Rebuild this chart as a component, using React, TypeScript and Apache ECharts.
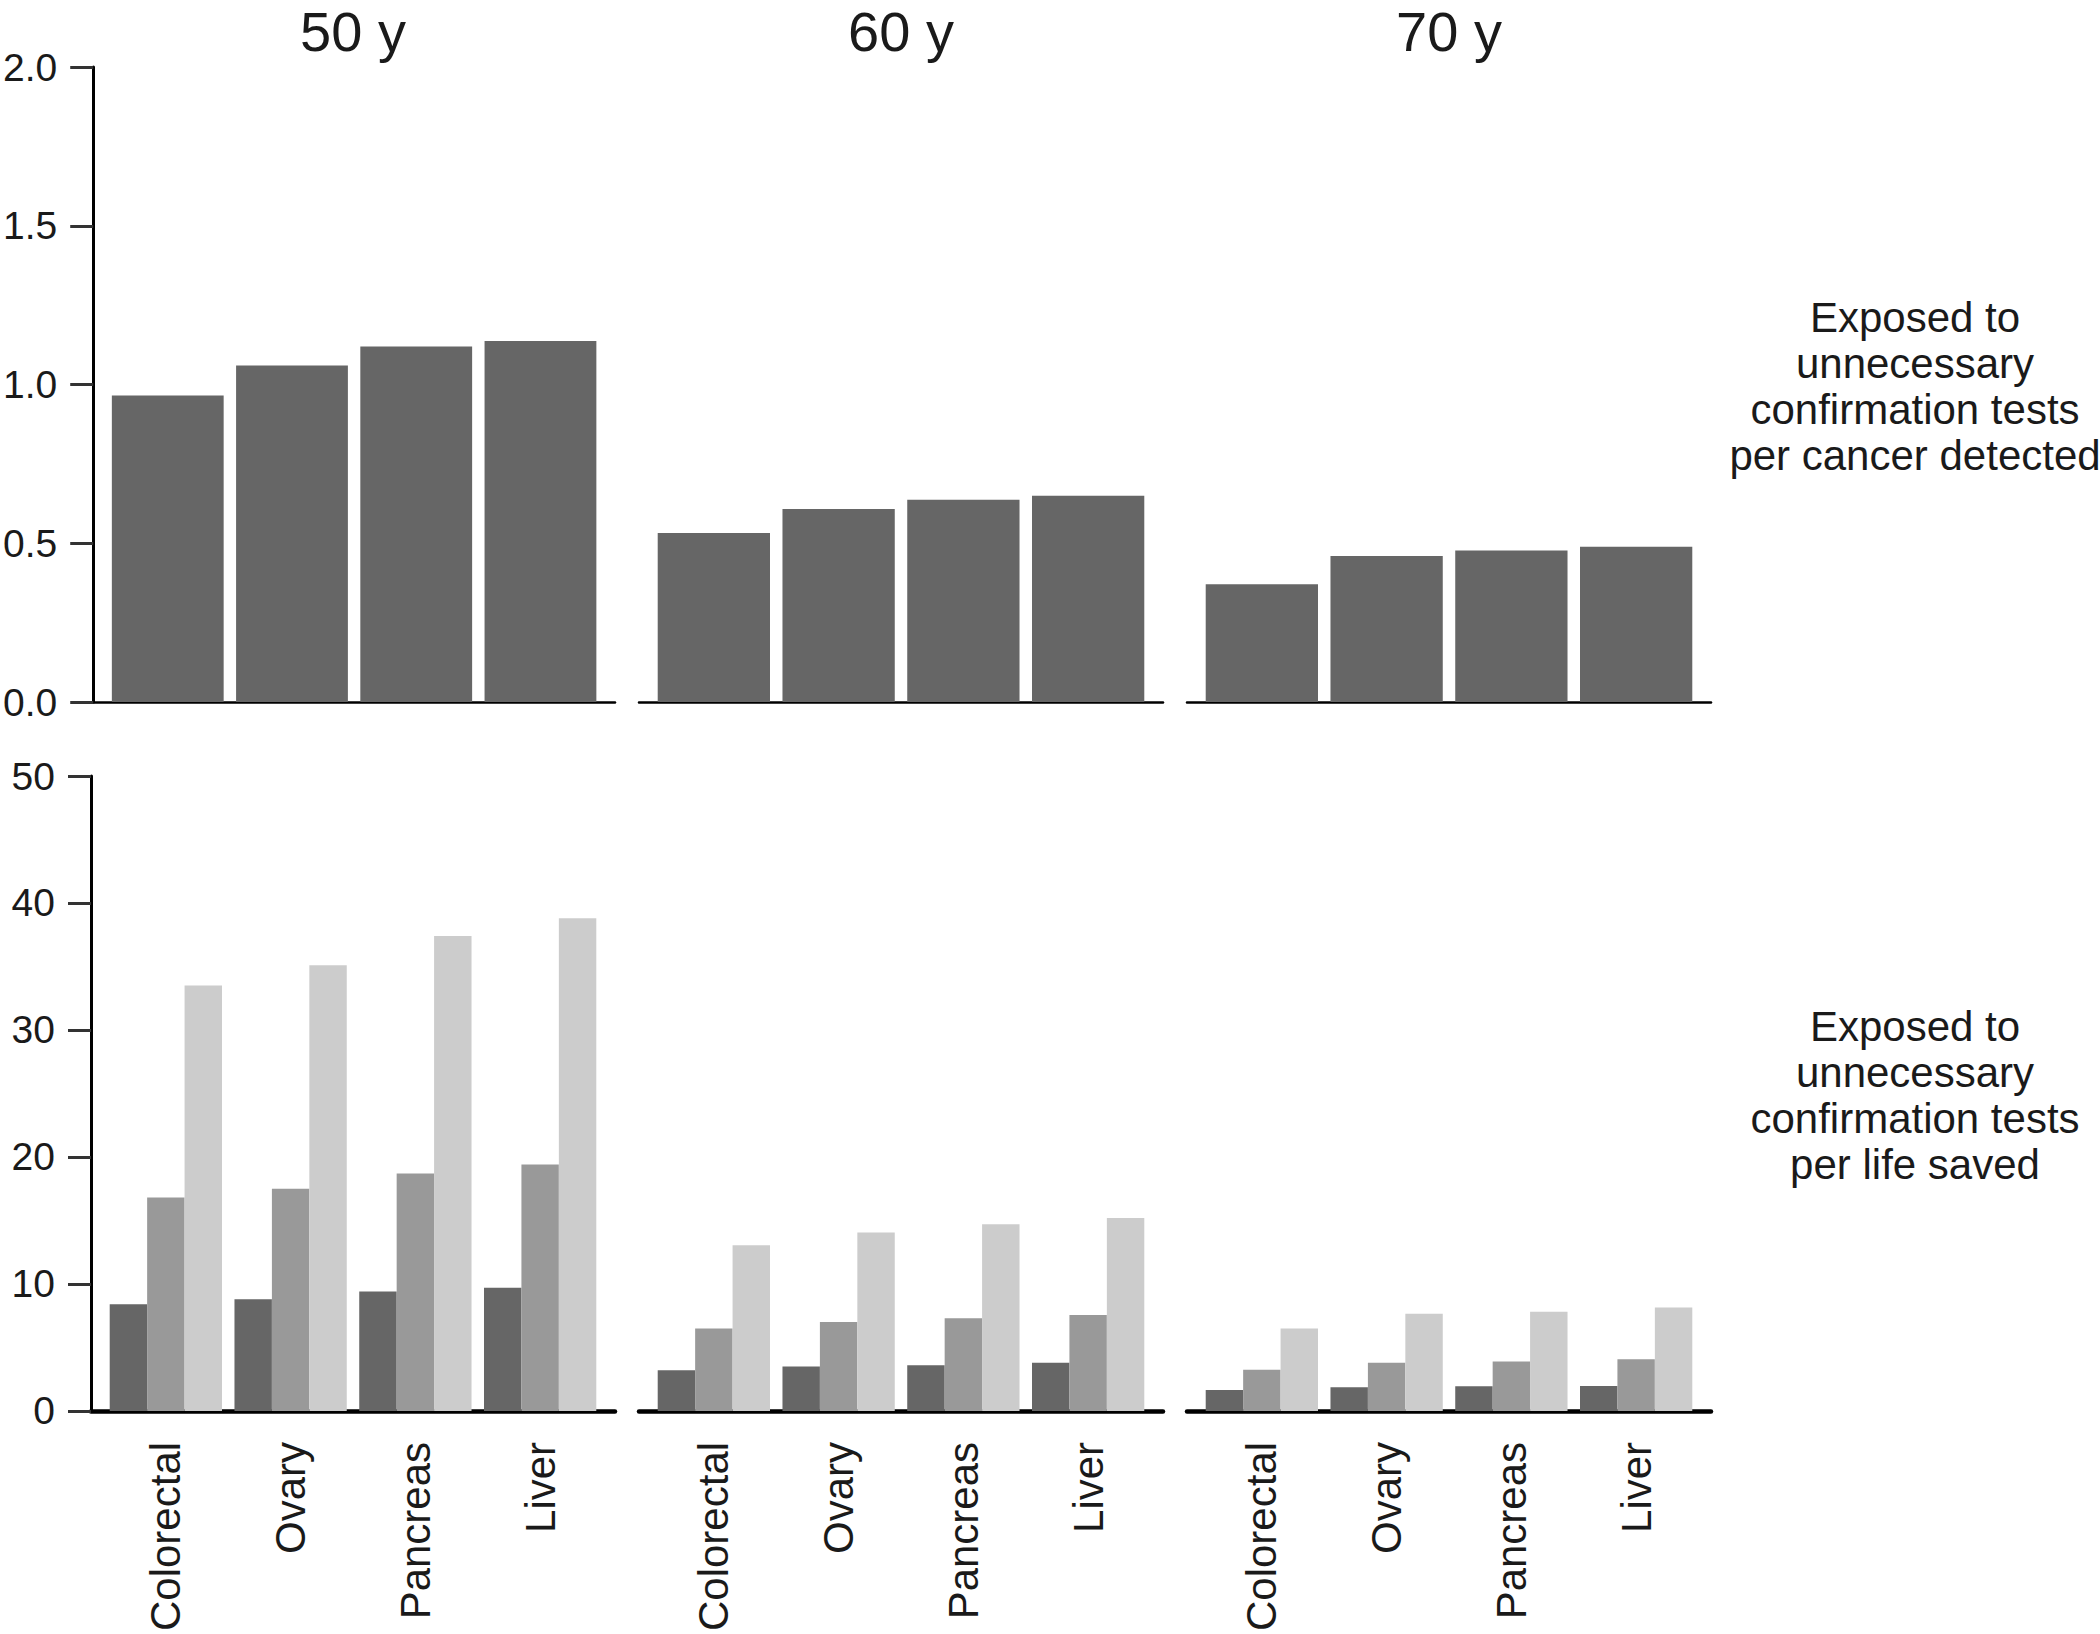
import React, { useEffect, useRef } from "react";
import * as echarts from "echarts";

// ---------- data ----------
const cancers = ["Colorectal", "Ovary", "Pancreas", "Liver"];
const ageGroups = ["50 y", "60 y", "70 y"];

// Exposed to unnecessary confirmation tests per cancer detected
const perCancer50 = [0.965, 1.06, 1.12, 1.137];
const perCancer60 = [0.532, 0.608, 0.637, 0.65];
const perCancer70 = [0.371, 0.46, 0.477, 0.489];

// Exposed to unnecessary confirmation tests per life saved (three shades)
const perLife50Dark = [8.4, 8.8, 9.4, 9.7];
const perLife50Mid = [16.8, 17.5, 18.7, 19.4];
const perLife50Light = [33.5, 35.1, 37.4, 38.8];

const perLife60Dark = [3.2, 3.5, 3.6, 3.8];
const perLife60Mid = [6.5, 7.0, 7.3, 7.55];
const perLife60Light = [13.05, 14.05, 14.7, 15.2];

const perLife70Dark = [1.65, 1.87, 1.95, 1.97];
const perLife70Mid = [3.25, 3.8, 3.9, 4.07];
const perLife70Light = [6.5, 7.65, 7.8, 8.15];

const topTicks = [0, 0.5, 1.0, 1.5, 2.0];
const bottomTicks = [0, 10, 20, 30, 40, 50];

const rowLabelTop = "Exposed to\nunnecessary\nconfirmation tests\nper cancer detected";
const rowLabelBottom = "Exposed to\nunnecessary\nconfirmation tests\nper life saved";

const shadeNames = ["Dark", "Medium", "Light"];

// ---------- styling ----------
const FONT = "'Liberation Sans', Arial, Helvetica, sans-serif";
const TEXT = "#1a1a1a";
const COLORS = ["#666666", "#999999", "#cccccc"];

const PANEL_LEFTS = [91, 639, 1187];
const PANEL_W = 524;
const TOP_Y = 67;
const BOT_Y = 776;
const PANEL_H = 635;

export default function App() {
  const ref = useRef<HTMLDivElement>(null);

  useEffect(() => {
    if (!ref.current) return;
    const chart = echarts.init(ref.current, null, { renderer: "svg" });

    const topData = [perCancer50, perCancer60, perCancer70];
    const botData = [
      [perLife50Dark, perLife50Mid, perLife50Light],
      [perLife60Dark, perLife60Mid, perLife60Light],
      [perLife70Dark, perLife70Mid, perLife70Light],
    ];

    const grid: any[] = [];
    const xAxis: any[] = [];
    const yAxis: any[] = [];
    const series: any[] = [];
    const graphic: any[] = [];

    const toPoints = (vals: number[]) => vals.map((v, i) => [i + 1, v]);

    for (let row = 0; row < 2; row++) {
      for (let p = 0; p < 3; p++) {
        const idx = row * 3 + p;
        grid.push({
          left: PANEL_LEFTS[p],
          top: row === 0 ? TOP_Y : BOT_Y,
          width: PANEL_W,
          height: PANEL_H,
          containLabel: false,
        });
        xAxis.push({
          type: "value",
          gridIndex: idx,
          min: 0.4,
          max: 4.6,
          splitLine: { show: false },
          axisTick: { show: false },
          axisLine: {
            show: true,
            onZero: false,
            lineStyle: { color: "#000", width: row === 0 ? 2.5 : 4.5 },
          },
          axisLabel:
            row === 0
              ? { show: false }
              : {
                  show: true,
                  customValues: [1, 2, 3, 4],
                  formatter: (v: number) => cancers[Math.round(v) - 1] ?? "",
                  rotate: 90,
                  margin: 31,
                  fontSize: 42,
                  fontFamily: FONT,
                  color: TEXT,
                },
        });
        const ticks = row === 0 ? topTicks : bottomTicks;
        yAxis.push({
          type: "value",
          gridIndex: idx,
          min: ticks[0],
          max: ticks[ticks.length - 1],
          interval: ticks[1] - ticks[0],
          show: p === 0,
          splitLine: { show: false },
          axisLine: { show: true, onZero: false, lineStyle: { color: "#000", width: 3 } },
          axisTick: { show: true, length: 23, lineStyle: { color: "#333", width: 3 } },
          axisLabel: {
            margin: 36,
            fontSize: 39,
            fontFamily: FONT,
            color: TEXT,
            formatter: (v: number) => (row === 0 ? v.toFixed(1) : String(v)),
          },
        });
        if (row === 0) {
          series.push({
            type: "bar",
            name: ageGroups[p],
            xAxisIndex: idx,
            yAxisIndex: idx,
            data: toPoints(topData[p]),
            barCategoryGap: "10%",
            itemStyle: { color: COLORS[0] },
          });
        } else {
          botData[p].forEach((vals, s) => {
            series.push({
              type: "bar",
              name: shadeNames[s],
              xAxisIndex: idx,
              yAxisIndex: idx,
              data: toPoints(vals),
              barCategoryGap: "10%",
              barGap: "0%",
              itemStyle: { color: COLORS[s] },
            });
          });
        }
      }
    }

    ageGroups.forEach((g, p) => {
      graphic.push({
        type: "text",
        x: PANEL_LEFTS[p] + PANEL_W / 2,
        y: 3,
        style: {
          text: g,
          fontSize: 56,
          fontFamily: FONT,
          fill: TEXT,
          textAlign: "center",
          textVerticalAlign: "top",
        },
      });
    });

    graphic.push({
      type: "text",
      x: 1915,
      y: 386,
      style: {
        text: rowLabelTop,
        fontSize: 42,
        lineHeight: 46,
        fontFamily: FONT,
        fill: TEXT,
        textAlign: "center",
        textVerticalAlign: "middle",
      },
    });
    graphic.push({
      type: "text",
      x: 1915,
      y: 1095,
      style: {
        text: rowLabelBottom,
        fontSize: 42,
        lineHeight: 46,
        fontFamily: FONT,
        fill: TEXT,
        textAlign: "center",
        textVerticalAlign: "middle",
      },
    });

    chart.setOption({
      animation: false,
      backgroundColor: "#ffffff",
      grid,
      xAxis,
      yAxis,
      series,
      graphic,
    });

    return () => chart.dispose();
  }, []);

  return (
    <div
      ref={ref}
      style={{ position: "absolute", left: 0, top: 0, width: 2100, height: 1634 }}
    />
  );
}
